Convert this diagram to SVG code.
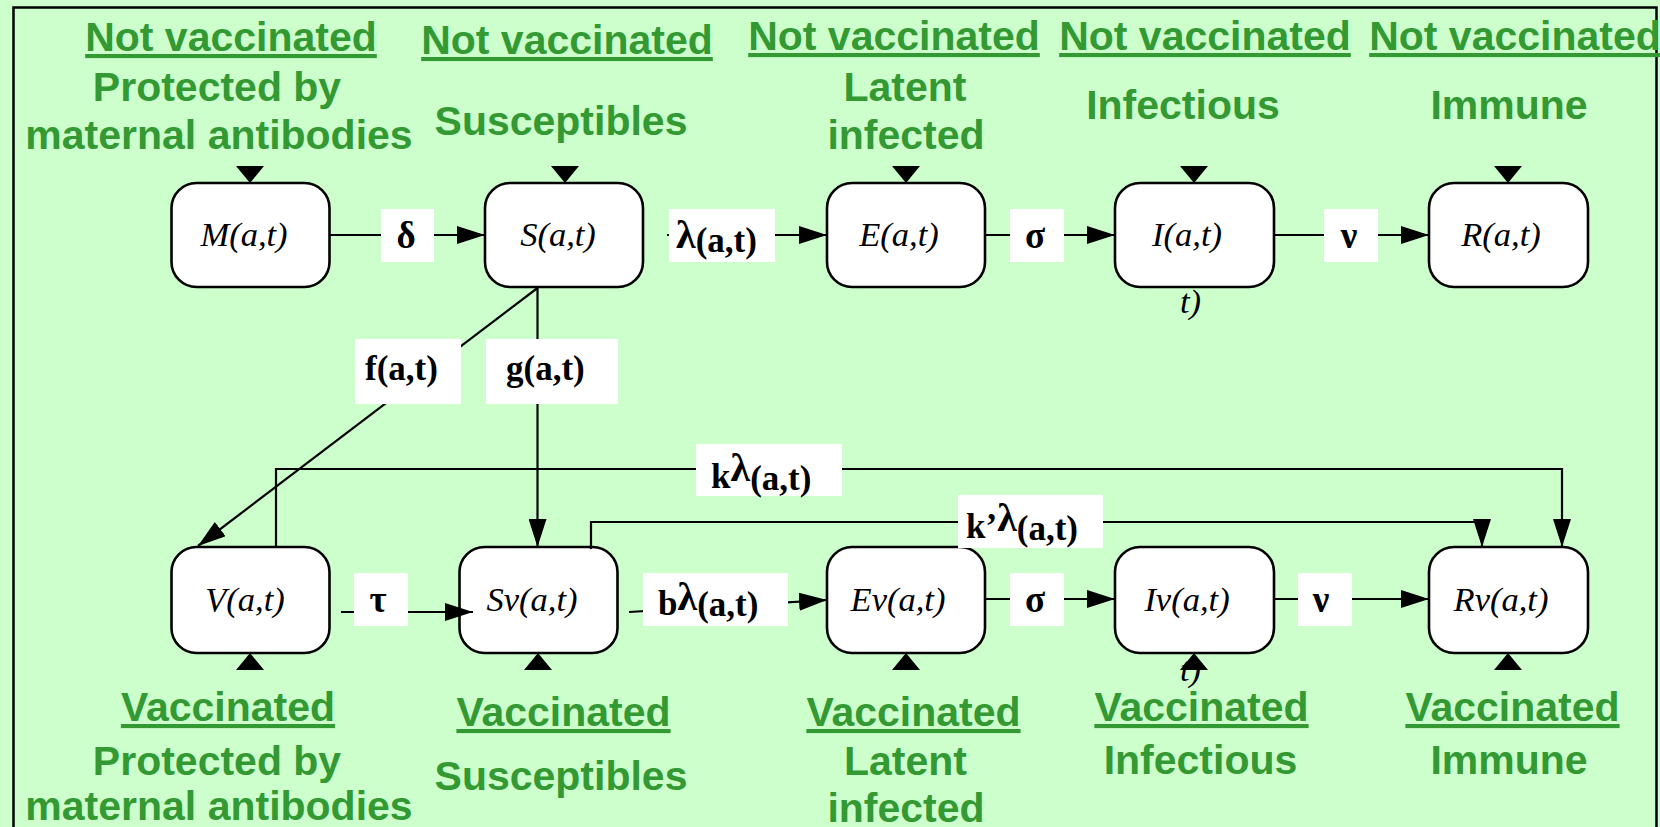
<svg xmlns="http://www.w3.org/2000/svg" width="1660" height="827" viewBox="0 0 1660 827">
<defs>
<marker id="arr" viewBox="0 0 28 18" markerWidth="28" markerHeight="18" markerUnits="userSpaceOnUse" refX="28" refY="9" orient="auto">
<path d="M0,0 L28,9 L0,18 z" fill="#000"/>
</marker>
<style>
.bg{fill:#CCFFCC}
.frame{fill:none;stroke:#000;stroke-width:2.5}
.box{fill:#fff;stroke:#000;stroke-width:2.6}
.bt{font-family:"Liberation Serif",serif;font-style:italic;font-size:34.5px;fill:#000;text-anchor:middle}
.st{font-family:"Liberation Serif",serif;font-style:italic;font-size:34.5px;fill:#000}
.hd{font-family:"Liberation Sans",Arial,sans-serif;font-weight:bold;font-size:41px;fill:#339933;text-anchor:middle;text-decoration:underline}
.sub{font-family:"Liberation Sans",Arial,sans-serif;font-weight:bold;font-size:41px;fill:#339933;text-anchor:middle}
.edge{fill:none;stroke:#000;stroke-width:2.2;marker-end:url(#arr)}
.lb{fill:#fff}
.lt{font-family:"Liberation Serif",serif;font-weight:bold;font-size:35px;fill:#000}
.gk{font-family:"Liberation Serif",serif;font-weight:bold;font-size:37px;fill:#000;text-anchor:middle}
.big{font-size:40px}
.tri{fill:#000}
</style>
</defs>
<rect class="bg" x="0" y="0" width="1660" height="827"/>
<rect class="frame" x="13.5" y="7.5" width="1643" height="840"/>

<g id="headers">
<text class="hd" x="231" y="51">Not vaccinated</text>
<text class="hd" x="567" y="54">Not vaccinated</text>
<text class="hd" x="894" y="50">Not vaccinated</text>
<text class="hd" x="1205" y="50">Not vaccinated</text>
<text class="hd" x="1515" y="50">Not vaccinated</text>
<text class="sub" x="217" y="101">Protected by</text>
<text class="sub" x="219" y="149">maternal antibodies</text>
<text class="sub" x="561" y="135">Susceptibles</text>
<text class="sub" x="905" y="101">Latent</text>
<text class="sub" x="906" y="149">infected</text>
<text class="sub" x="1183" y="119">Infectious</text>
<text class="sub" x="1509" y="119">Immune</text>
<text class="hd" x="228" y="721">Vaccinated</text>
<text class="hd" x="563.5" y="726">Vaccinated</text>
<text class="hd" x="913.5" y="726">Vaccinated</text>
<text class="hd" x="1201.5" y="721">Vaccinated</text>
<text class="hd" x="1512.5" y="721">Vaccinated</text>
<text class="sub" x="217" y="775">Protected by</text>
<text class="sub" x="219" y="820">maternal antibodies</text>
<text class="sub" x="561" y="790">Susceptibles</text>
<text class="sub" x="905.5" y="775">Latent</text>
<text class="sub" x="906" y="822">infected</text>
<text class="sub" x="1200.5" y="774">Infectious</text>
<text class="sub" x="1509" y="774">Immune</text>
</g>

<g id="node-M"><rect class="box" x="171.5" y="183" width="158" height="104" rx="25"/><text class="bt" x="244" y="246">M(a,t)</text></g>
<g id="node-S"><rect class="box" x="485" y="183" width="158" height="104" rx="25"/><text class="bt" x="558" y="246">S(a,t)</text></g>
<g id="node-E"><rect class="box" x="827" y="183" width="158" height="104" rx="25"/><text class="bt" x="899" y="246">E(a,t)</text></g>
<g id="node-I"><rect class="box" x="1115" y="183" width="159" height="104" rx="25"/><text class="bt" x="1187" y="246">I(a,t)</text><text class="st" x="1180" y="313">t)</text></g>
<g id="node-R"><rect class="box" x="1429" y="183" width="159" height="104" rx="25"/><text class="bt" x="1501" y="246">R(a,t)</text></g>

<g id="node-V"><rect class="box" x="171.5" y="547" width="158" height="106" rx="25"/><text class="bt" x="245" y="611">V(a,t)</text></g>
<g id="node-Sv"><rect class="box" x="459.5" y="547" width="158" height="106" rx="25"/><text class="bt" x="532" y="611">Sv(a,t)</text></g>
<g id="node-Ev"><rect class="box" x="827" y="547" width="158" height="106" rx="25"/><text class="bt" x="898" y="611">Ev(a,t)</text></g>
<g id="node-Iv"><rect class="box" x="1115" y="547" width="159" height="106" rx="25"/><text class="bt" x="1187" y="611">Iv(a,t)</text><text class="st" x="1180" y="681">t)</text></g>
<g id="node-Rv"><rect class="box" x="1429" y="547" width="159" height="106" rx="25"/><text class="bt" x="1501" y="611">Rv(a,t)</text></g>

<g id="connectors">
<polygon class="tri" points="236,166 264,166 250,183"/>
<polygon class="tri" points="551,166 579,166 565,183"/>
<polygon class="tri" points="892,166 920,166 906,183"/>
<polygon class="tri" points="1180,166 1208,166 1194,183"/>
<polygon class="tri" points="1494,166 1522,166 1508,183"/>
<polygon class="tri" points="236,670 264,670 250,653"/>
<polygon class="tri" points="524,670 552,670 538,653"/>
<polygon class="tri" points="892,670 920,670 906,653"/>
<polygon class="tri" points="1180,670 1208,670 1194,653"/>
<polygon class="tri" points="1494,670 1522,670 1508,653"/>

<path class="edge" d="M330,235 H485"/>
<path class="edge" d="M667,235 H827"/>
<path class="edge" d="M985,235 H1115"/>
<path class="edge" d="M1274,235 H1429"/>
<path class="edge" d="M537.5,288 L198,546"/>
<path class="edge" d="M537.5,288 V547"/>
<path class="edge" d="M276,547 V469 H1562 V547"/>
<path class="edge" d="M591,549 V522 H1482 V547"/>
<path class="edge" d="M341,612 H473"/>
<path class="edge" d="M629,612 L827,600"/>
<path class="edge" d="M985,599 H1115"/>
<path class="edge" d="M1274,599 H1429"/>

<rect class="lb" x="381" y="209" width="53" height="53"/>
<text class="gk" x="406" y="248">δ</text>
<rect class="lb" x="669" y="209" width="106" height="53"/>
<text class="lt" x="676" y="248"><tspan class="big">λ</tspan><tspan dy="4">(a,t)</tspan></text>
<rect class="lb" x="1010" y="209" width="54" height="53"/>
<text class="gk" x="1035" y="248">σ</text>
<rect class="lb" x="1324" y="209" width="54" height="53"/>
<text class="gk" x="1349" y="248">ν</text>

<rect class="lb" x="355" y="339" width="106" height="65"/>
<text class="lt" x="365" y="380">f(a,t)</text>
<rect class="lb" x="486" y="339" width="132" height="65"/>
<text class="lt" x="506" y="380">g(a,t)</text>

<rect class="lb" x="696" y="444" width="146" height="52"/>
<text class="lt" x="711" y="488">k<tspan class="big" dy="-7">λ</tspan><tspan dy="9">(a,t)</tspan></text>
<rect class="lb" x="958" y="495" width="145" height="53"/>
<text class="lt" x="966" y="538">k’<tspan class="big" dy="-7">λ</tspan><tspan dy="9">(a,t)</tspan></text>

<rect class="lb" x="354" y="573" width="54" height="53"/>
<text class="gk" x="378" y="612">τ</text>
<rect class="lb" x="643" y="573" width="145" height="53"/>
<text class="lt" x="658" y="615">b<tspan class="big" dy="-5">λ</tspan><tspan dy="6">(a,t)</tspan></text>
<rect class="lb" x="1010" y="573" width="54" height="53"/>
<text class="gk" x="1035" y="612">σ</text>
<rect class="lb" x="1298" y="573" width="54" height="53"/>
<text class="gk" x="1321" y="612">ν</text>
</g>
</svg>
